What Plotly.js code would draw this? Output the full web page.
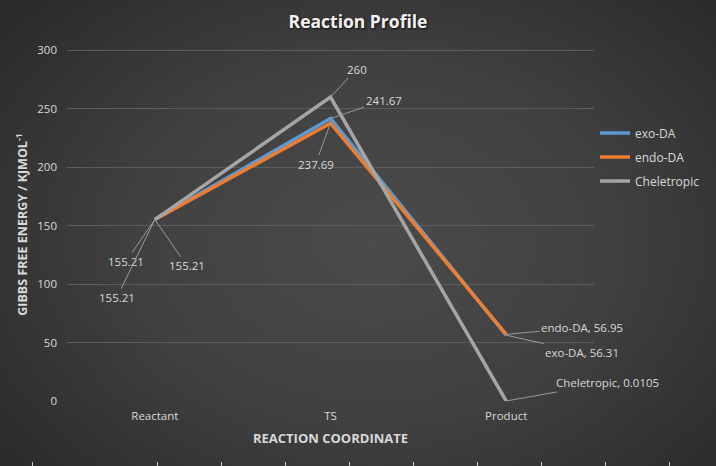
<!DOCTYPE html>
<html>
<head>
<meta charset="utf-8">
<script src="https://cdn.plot.ly/plotly-3.0.1.min.js"></script>
<style>
  html, body { margin: 0; padding: 0; }
  body {
    width: 716px; height: 466px; overflow: hidden; position: relative;
    background: radial-gradient(ellipse 75% 85% at 52% 52%, #4b4b4b 0%, #404040 45%, #2c2c2c 85%, #262626 100%);
  }
  #plot { width: 716px; height: 466px; }
  .cell { position: absolute; bottom: 0; width: 1px; height: 4px; background: #c8c8c8; }
</style>
</head>
<body>
<div id="plot"></div>
<script>
// values
const steps = ['Reactant', 'TS', 'Product'];
const exoDA = [155.21, 241.67, 56.31];
const endoDA = [155.21, 237.69, 56.95];
const cheletropic = [155.21, 260, 0.0105];

const seriesNames = ['exo-DA', 'endo-DA', 'Cheletropic'];
const seriesColors = ['#5b9bd5', '#ed7d31', '#a5a5a5'];

// spreadsheet cell borders peeking in under the chart
const cellEdges = [32, 157, 221, 285, 349, 413, 477, 541, 605, 669];

const labelColor = '#d9d9d9';
const leaderColor = '#9a9a9a';
const font = 'Open Sans, Noto Sans, sans-serif';

let allSeries = [exoDA, endoDA, cheletropic];
let traces = [];
for (let i = 0; i < allSeries.length; i++) {
    traces.push({
        x: steps,
        y: allSeries[i],
        type: 'scatter',
        mode: 'lines',
        name: seriesNames[i],
        legendgroup: 'g' + i,
        line: { color: seriesColors[i], width: 3.5 },
        hoverinfo: 'skip',
    });
}

// label offsets (pixels from the point) like the Excel leader lines
// [series, step, ax, ay, withName]
const labelPlaces = [
    [0, 0, -29, 42, false],
    [1, 0, 32, 46, false],
    [2, 0, -38, 78, false],
    [2, 1, 26, -28, false],
    [0, 1, 53, -18, false],
    [1, 1, -15, 41, false],
    [1, 2, 76, -7, true],
    [0, 2, 76, 17, true],
    [2, 2, 101, -18, true],
];

let annotations = [];
for (let i = 0; i < labelPlaces.length; i++) {
    let p = labelPlaces[i];
    let value = allSeries[p[0]][p[1]];
    let text = p[4] ? seriesNames[p[0]] + ', ' + value : String(value);
    annotations.push({
        x: steps[p[1]],
        y: value,
        xref: 'x',
        yref: 'y',
        text: text,
        showarrow: true,
        arrowhead: 0,
        arrowwidth: 1,
        arrowcolor: leaderColor,
        ax: p[2],
        ay: p[3],
        standoff: 0,
        font: { family: font, size: 11.5, color: labelColor },
    });
}

const layout = {
    width: 716,
    height: 466,
    paper_bgcolor: 'rgba(0,0,0,0)',
    plot_bgcolor: 'rgba(0,0,0,0)',
    margin: { l: 67, r: 121, t: 48, b: 65 },
    showlegend: true,
    title: {
        text: '<b>Reaction Profile</b>',
        x: 0.5,
        xanchor: 'center',
        y: 0.953,
        yanchor: 'middle',
        font: { family: font, size: 17.5, color: '#f2f2f2', shadow: '1px 1px 2px #111' },
    },
    xaxis: {
        type: 'category',
        range: [-0.5, 2.5],
        showgrid: false,
        zeroline: false,
        showline: false,
        ticks: '',
        ticklabelstandoff: 6,
        tickfont: { family: font, size: 11.5, color: labelColor },
        title: {
            text: '<b>REACTION COORDINATE</b>',
            standoff: 12,
            font: { family: font, size: 13, color: labelColor },
        },
    },
    yaxis: {
        range: [0, 302],
        tick0: 0,
        dtick: 50,
        showgrid: true,
        gridcolor: '#5c5c5c',
        gridwidth: 1,
        zeroline: false,
        showline: false,
        ticks: '',
        ticklabelstandoff: 9,
        tickfont: { family: font, size: 11.5, color: labelColor },
        title: {
            text: '<b>GIBBS FREE ENERGY / KJMOL<sup>-1</sup></b>',
            standoff: 6,
            font: { family: font, size: 12.5, color: labelColor },
        },
    },
    legend: {
        x: 1.0,
        xanchor: 'left',
        y: 0.8,
        yanchor: 'top',
        bgcolor: 'rgba(0,0,0,0)',
        traceorder: 'grouped',
        tracegroupgap: 5,
        itemwidth: 30,
        font: { family: font, size: 12, color: labelColor },
    },
    annotations: annotations,
};

Plotly.newPlot('plot', traces, layout, { displayModeBar: false, staticPlot: true });

for (let i = 0; i < cellEdges.length; i++) {
    let d = document.createElement('div');
    d.className = 'cell';
    d.style.left = cellEdges[i] + 'px';
    document.body.appendChild(d);
}
</script>
</body>
</html>
